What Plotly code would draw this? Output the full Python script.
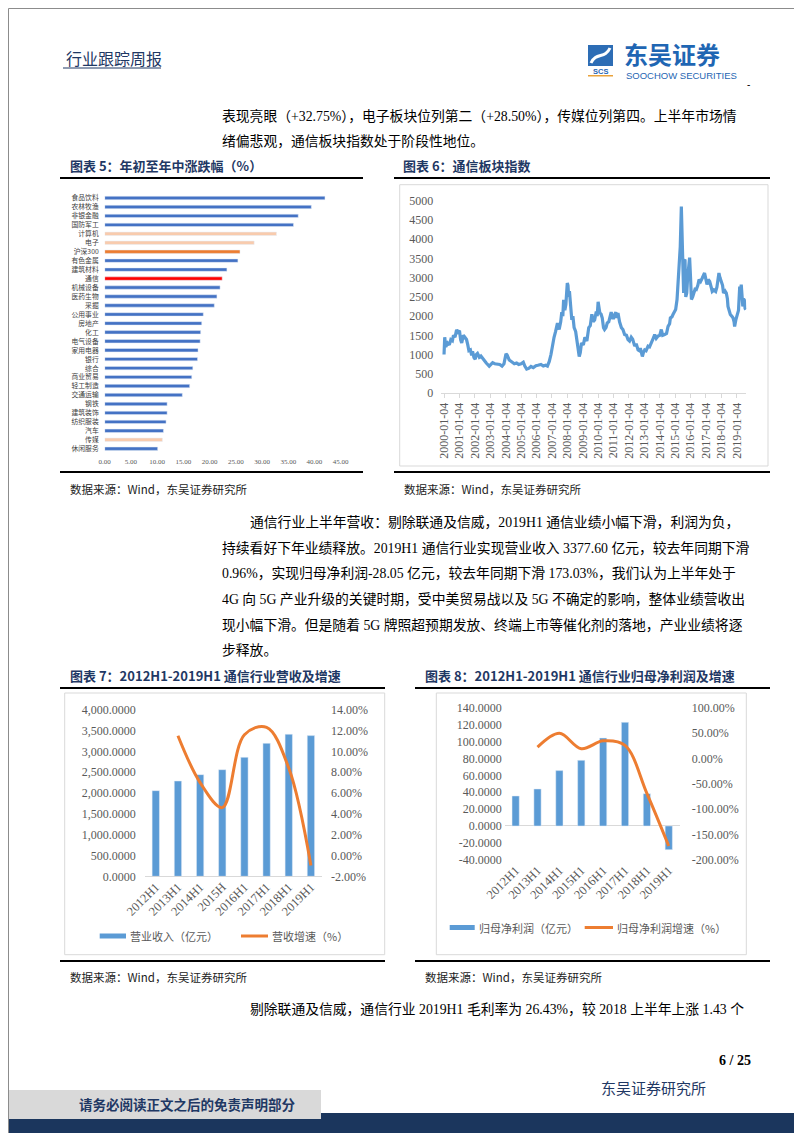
import plotly.graph_objects as go

W, H = 802, 1133


def fx(p):
    return p / W


def fy(p):
    return 1 - p / H


# ---------------- Data ----------------
# Chart 5: YTD change by industry (%)
industries = ["食品饮料", "农林牧渔", "非银金融", "国防军工", "计算机", "电子", "沪深300", "有色金属",
              "建筑材料", "通信", "机械设备", "医药生物", "采掘", "公用事业", "房地产", "化工",
              "电气设备", "家用电器", "银行", "综合", "商业贸易", "轻工制造", "交通运输", "钢铁",
              "建筑装饰", "纺织服装", "汽车", "传媒", "休闲服务"]
ytd_change = [42.0, 39.4, 36.9, 36.0, 32.75, 28.50, 25.8, 25.4,
              23.3, 22.4, 22.0, 21.4, 20.9, 18.8, 18.5, 18.3,
              18.2, 17.8, 17.7, 16.8, 16.6, 16.2, 14.8, 11.9,
              11.9, 11.7, 11.2, 11.0, 10.1]
light_highlight = {"计算机", "电子", "传媒"}
benchmark = {"沪深300"}
focus = {"通信"}

# Chart 6: telecom sector index
index_dates = [
    "2000-01-04", "2000-01-20", "2000-02-14", "2000-03-28", "2000-05-08", "2000-06-13", "2000-07-20",
    "2000-08-15", "2000-09-20", "2000-10-27", "2000-12-01", "2001-01-04", "2001-02-01", "2001-02-26",
    "2001-04-06", "2001-05-12", "2001-06-20", "2001-07-20", "2001-08-15", "2001-09-20", "2001-10-20",
    "2001-11-10", "2001-12-13", "2002-01-12", "2002-02-06", "2002-03-07", "2002-04-20", "2002-05-27",
    "2002-07-02", "2002-08-07", "2002-10-01", "2002-12-10", "2003-01-19", "2003-02-28", "2003-04-20",
    "2003-06-25", "2003-08-15", "2003-10-09", "2003-11-25", "2004-01-12", "2004-02-06", "2004-03-28",
    "2004-05-27", "2004-07-27", "2004-09-20", "2004-11-07", "2005-01-04", "2005-02-25", "2005-04-02",
    "2005-05-16", "2005-07-02", "2005-08-26", "2005-10-20", "2005-12-21", "2006-02-06", "2006-04-20",
    "2006-06-14", "2006-08-08", "2006-09-20", "2006-11-03", "2006-12-13", "2007-01-19", "2007-02-24",
    "2007-04-02", "2007-05-16", "2007-06-25", "2007-08-01", "2007-08-26", "2007-09-20", "2007-10-09",
    "2007-11-07", "2007-12-01", "2008-01-04", "2008-01-20", "2008-02-06", "2008-02-24", "2008-03-20",
    "2008-04-20", "2008-05-16", "2008-06-14", "2008-07-20", "2008-08-26", "2008-09-20", "2008-10-13",
    "2008-11-07", "2008-12-06", "2009-01-19", "2009-02-24", "2009-04-12", "2009-05-27", "2009-07-02",
    "2009-08-08", "2009-09-06", "2009-10-13", "2009-11-22", "2009-12-13", "2010-01-04", "2010-01-25",
    "2010-02-14", "2010-03-15", "2010-04-12", "2010-05-12", "2010-06-06", "2010-07-10", "2010-08-08",
    "2010-09-13", "2010-10-20", "2010-11-10", "2010-12-13", "2011-01-08", "2011-02-06", "2011-03-01",
    "2011-03-24", "2011-04-20", "2011-05-27", "2011-07-10", "2011-08-15", "2011-09-24", "2011-11-07",
    "2011-12-13", "2012-01-19", "2012-02-28", "2012-04-02", "2012-05-20", "2012-06-25", "2012-08-08",
    "2012-09-06", "2012-10-01", "2012-10-27", "2012-11-18", "2012-12-13", "2013-01-12", "2013-02-14",
    "2013-04-02", "2013-05-08", "2013-06-18", "2013-07-20", "2013-08-15", "2013-09-06", "2013-10-13",
    "2013-11-25", "2014-01-04", "2014-02-10", "2014-03-15", "2014-05-01", "2014-06-14", "2014-07-20",
    "2014-08-26", "2014-09-13", "2014-10-20", "2014-11-14", "2014-12-13", "2015-01-16", "2015-02-18",
    "2015-03-15", "2015-04-06", "2015-05-05", "2015-05-31", "2015-06-14", "2015-06-25", "2015-07-09",
    "2015-07-24", "2015-08-08", "2015-08-26", "2015-09-13", "2015-10-06", "2015-10-27", "2015-11-10",
    "2015-12-01", "2015-12-13", "2016-01-04", "2016-01-25", "2016-02-23", "2016-03-20", "2016-04-20",
    "2016-05-20", "2016-06-25", "2016-07-24", "2016-08-29", "2016-10-09", "2016-11-07", "2016-12-01",
    "2017-01-04", "2017-01-28", "2017-02-26", "2017-04-02", "2017-05-08", "2017-06-02", "2017-07-10",
    "2017-08-22", "2017-09-20", "2017-10-20", "2017-11-07", "2017-12-01", "2018-01-04", "2018-02-01",
    "2018-02-24", "2018-04-02", "2018-05-01", "2018-05-27", "2018-06-10", "2018-07-10", "2018-08-04",
    "2018-09-06", "2018-10-09", "2018-11-01", "2018-11-14", "2018-12-13", "2019-01-12", "2019-02-14",
    "2019-03-15", "2019-04-02", "2019-04-20", "2019-05-08", "2019-05-27", "2019-06-14", "2019-07-02",
    "2019-07-20", "2019-08-08"]
index_values = [
    1000, 1450, 1200, 1300, 1250, 1390, 1360,
    1500, 1450, 1640, 1580, 1620, 1380, 1300,
    1500, 1450, 1390, 1250, 1100, 1120, 980,
    1080, 920, 880, 1000, 1030, 930, 960,
    900, 860, 780, 700, 760, 790, 760,
    760, 740, 700, 760, 1020, 990, 860,
    800, 760, 780, 740, 760, 800, 700,
    620, 640, 690, 660, 710, 720, 740,
    700, 720, 700, 820, 1000, 1250, 1450,
    1600, 1820, 1650, 1850, 2100, 2000, 2420,
    2150, 2300, 2860, 2800, 2500, 2650, 2150,
    1900, 2000, 1700, 1600, 1250, 1150, 950,
    1050, 1300, 1250, 1450, 1350, 1700, 1750,
    2050, 1850, 1900, 2120, 2000, 2370, 2150,
    2080, 2050, 1950, 1700, 1650, 1700, 1820,
    1850, 2000, 2100, 1950, 1950, 2050, 2100,
    1950, 2080, 1850, 1700, 1650, 1520, 1500,
    1390, 1350, 1450, 1400, 1220, 1280, 1120,
    1100, 1170, 1050, 950, 1050, 1120, 1100,
    1220, 1200, 1300, 1350, 1450, 1520, 1420,
    1480, 1500, 1650, 1500, 1520, 1550, 1730,
    1800, 1950, 1980, 2040, 2100, 2170, 2430,
    2800, 3200, 3800, 4850, 4200, 3550, 2900,
    2600, 3450, 3470, 2500, 2600, 3000, 3200,
    3400, 3520, 3000, 2430, 2500, 2600, 2700,
    2690, 2800, 2950, 2900, 2990, 3050, 3120,
    2950, 2820, 2950, 2900, 2750, 2640, 2680,
    2640, 2750, 2950, 3120, 3000, 2860, 2800,
    2600, 2650, 2600, 2450, 2250, 2150, 2040,
    2000, 1950, 1850, 1730, 1900, 1990, 2150,
    2770, 2600, 2820, 2450, 2250, 2450, 2420,
    2200, 2170]
index_ticks = ["%d-01-04" % y for y in range(2000, 2020)]

# Chart 7 / 8
periods = ["2012H1", "2013H1", "2014H1", "2015H1", "2016H1", "2017H1", "2018H1", "2019H1"]
period_labels_7 = ["2012H1", "2013H1", "2014H1", "2015H", "2016H1", "2017H1", "2018H1", "2019H1"]
revenue = [2056, 2288, 2440, 2560, 2856, 3192, 3410, 3377.60]
revenue_growth = [None, 11.5, 7.0, 4.6, 11.6, 12.3, 8.4, -0.96]
net_profit = [35.6, 43.9, 65.7, 77.9, 104.4, 123.0, 38.4, -28.05]
profit_growth = [None, 22.5, 50.0, 19.5, 35.0, 26.0, -68.8, -173.03]

# ---------------- Styles ----------------
BLUE5 = "#4472C4"
LIGHT_OR = "#F8CBAD"
ORANGE = "#ED7D31"
RED = "#FF0000"
BLUE = "#5B9BD5"
GRAY_TXT = "#595959"
FRAME = "#D9D9D9"
NAVY = "#1F3864"
SERIF = "Liberation Serif, Noto Sans CJK SC"
CJK = "Noto Sans CJK SC"

bar5_colors = []
for name in industries:
    if name in focus:
        bar5_colors.append(RED)
    elif name in benchmark:
        bar5_colors.append(ORANGE)
    elif name in light_highlight:
        bar5_colors.append(LIGHT_OR)
    else:
        bar5_colors.append(BLUE5)

fig = go.Figure()

fig.add_trace(go.Bar(x=ytd_change, y=industries, orientation="h", marker_color=bar5_colors,
                     xaxis="x", yaxis="y", width=0.38, hoverinfo="x+y"))

fig.add_trace(go.Scatter(x=index_dates, y=index_values, mode="lines",
                         line=dict(color=BLUE, width=3.2), xaxis="x2", yaxis="y2"))

fig.add_trace(go.Bar(x=periods, y=revenue, marker_color=BLUE, width=0.33, xaxis="x3", yaxis="y3"))
fig.add_trace(go.Scatter(x=periods, y=revenue_growth, mode="lines",
                         line=dict(color=ORANGE, width=3, shape="spline", smoothing=1.0),
                         xaxis="x3", yaxis="y4", connectgaps=False))

fig.add_trace(go.Bar(x=periods, y=net_profit, marker_color=BLUE, width=0.33, xaxis="x5", yaxis="y5"))
fig.add_trace(go.Scatter(x=periods, y=profit_growth, mode="lines",
                         line=dict(color=ORANGE, width=3, shape="spline", smoothing=1.0),
                         xaxis="x5", yaxis="y6", connectgaps=False))

tickfont_serif = dict(family=SERIF, size=12, color=GRAY_TXT)

layout = dict(
    width=W, height=H, autosize=False,
    margin=dict(l=0, r=0, t=0, b=0, pad=0),
    paper_bgcolor="white", plot_bgcolor="rgba(0,0,0,0)",
    showlegend=False,
    # chart 5
    xaxis=dict(domain=[fx(96.7), fx(332.7)], range=[0, 45], anchor="y", automargin=False,
               tickmode="array",
               tickvals=list(range(0, 50, 5)), ticktext=["%.2f" % v for v in range(0, 50, 5)],
               tickfont=dict(family=SERIF, size=7, color=GRAY_TXT),
               showgrid=False, zeroline=False, showline=False, ticks="", ticklabelstandoff=3),
    yaxis=dict(domain=[fy(445.2), fy(185.5)], type="category", anchor="x", automargin=False,
               categoryorder="array", categoryarray=industries,
               tickmode="array", tickvals=industries, ticktext=industries,
               range=[len(industries) - 0.5, -0.5],
               tickfont=dict(family=CJK, size=6.8, color="#404040"),
               showgrid=False, zeroline=False, showline=False, ticks="", ticklabelstandoff=5),
    # chart 6
    xaxis2=dict(domain=[fx(433.3), fx(738.3)], type="date", range=["1999-10-31", "2019-08-18"],
                anchor="y2", automargin=False, tickmode="array",
                tickvals=index_ticks, ticktext=index_ticks, tickangle=-90,
                tickfont=tickfont_serif, showgrid=False, zeroline=False,
                showline=True, linecolor=FRAME, linewidth=1,
                ticks="outside", ticklen=4, tickcolor=FRAME),
    yaxis2=dict(domain=[fy(385), fy(192.7)], range=[0, 5000], anchor="x2", automargin=False,
                tickmode="array",
                tickvals=list(range(0, 5001, 500)), tickfont=tickfont_serif,
                showgrid=False, zeroline=False, showline=False, ticks="", ticklabelstandoff=7),
    # chart 7
    xaxis3=dict(domain=[fx(136.7), fx(314)], type="category", range=[-0.5, 7.5], anchor="y3",
                automargin=False, tickmode="array",
                tickvals=periods, ticktext=period_labels_7, tickangle=-45,
                tickfont=dict(family=SERIF, size=12.5, color=GRAY_TXT),
                showgrid=False, zeroline=False, showline=False, ticks=""),
    yaxis3=dict(domain=[fy(868.3), fy(701.7)], range=[0, 4000], anchor="x3", automargin=False,
                tickmode="array",
                tickvals=list(range(0, 4001, 500)),
                ticktext=["{:,}.0000".format(v) for v in range(0, 4001, 500)],
                tickfont=tickfont_serif, showgrid=False,
                zeroline=True, zerolinecolor=FRAME, zerolinewidth=1,
                showline=False, ticks="", ticklabelstandoff=8),
    yaxis4=dict(domain=[fy(868.3), fy(701.7)], range=[-2, 14], anchor="x3", overlaying="y3",
                side="right", automargin=False, tickmode="array", tickvals=list(range(-2, 15, 2)),
                ticktext=["%.2f%%" % v for v in range(-2, 15, 2)],
                tickfont=tickfont_serif, showgrid=False, zeroline=False, showline=False,
                ticks="", ticklabelstandoff=8),
    # chart 8
    xaxis5=dict(domain=[fx(496.7), fx(671.7)], type="category", range=[-0.5, 7.5], anchor="y5",
                automargin=False, tickmode="array",
                tickvals=periods, ticktext=periods, tickangle=-45,
                tickfont=dict(family=SERIF, size=12.5, color=GRAY_TXT),
                showgrid=False, zeroline=False, showline=False, ticks=""),
    yaxis5=dict(domain=[fy(851.7), fy(700)], range=[-40, 140], anchor="x5", automargin=False,
                tickmode="array",
                tickvals=list(range(-40, 141, 20)),
                ticktext=["%.4f" % v for v in range(-40, 141, 20)],
                tickfont=tickfont_serif, showgrid=False,
                zeroline=True, zerolinecolor=FRAME, zerolinewidth=1,
                showline=False, ticks="", ticklabelstandoff=2),
    yaxis6=dict(domain=[fy(851.7), fy(700)], range=[-200, 100], anchor="x5", overlaying="y5",
                side="right", automargin=False, tickmode="array", tickvals=list(range(-200, 101, 50)),
                ticktext=["%.2f%%" % v for v in range(-200, 101, 50)],
                tickfont=tickfont_serif, showgrid=False, zeroline=False, showline=False,
                ticks="", ticklabelstandoff=11),
)
fig.update_layout(**layout)

shapes = []


def rect(x0, y0, x1, y1, fill=None, line=None, lw=1, layer="below"):
    shapes.append(dict(type="rect", xref="paper", yref="paper",
                       x0=fx(x0), x1=fx(x1), y0=fy(y1), y1=fy(y0),
                       fillcolor=fill if fill else "rgba(0,0,0,0)",
                       line=dict(color=line if line else "rgba(0,0,0,0)", width=lw if line else 0),
                       layer=layer))


def hline(x0, x1, y, color="black", w=2):
    shapes.append(dict(type="line", xref="paper", yref="paper",
                       x0=fx(x0), x1=fx(x1), y0=fy(y), y1=fy(y),
                       line=dict(color=color, width=w)))


# page border
rect(0.5, 0.5, 801.5, 1132.5, line="#8C8C8C", lw=1, layer="above")
# header underline
hline(55, 153, 60, color=NAVY, w=1)
# chart title / bottom lines
hline(52, 355, 170)
hline(386, 762, 170)
hline(52, 355, 464)
hline(386, 762, 464)
hline(52, 377, 680)
hline(407, 762, 680)
hline(52, 377, 953)
hline(407, 762, 953)
# chart frames
rect(391.7, 176.7, 760, 458, line=FRAME)
rect(56.7, 685, 376.7, 946.7, line=FRAME)
rect(428.3, 685, 738.3, 946.7, line=FRAME)
# legends
rect(91.7, 925.5, 118, 930.5, fill=BLUE, layer="above")
hline(233, 260, 928, color=ORANGE, w=3)
rect(441.7, 917, 466.7, 922, fill=BLUE, layer="above")
hline(576.7, 605, 919.5, color=ORANGE, w=3)
# logo icon
rect(580, 37, 605, 58, fill="#2D6DB5", layer="above")
shapes.append(dict(type="path", xref="paper", yref="paper", layer="above",
                   path="M %f,%f C %f,%f %f,%f %f,%f" % (
                       fx(583), fy(55), fx(588), fy(44), fx(597), fy(51), fx(602), fy(40)),
                   line=dict(color="white", width=3)))
rect(580, 67, 605, 68.5, fill="#E9A23B", layer="above")
# footer
rect(0, 1105, 802, 1133, fill="#1B365D")
rect(0, 1082, 313, 1111, fill="#D9D9D9")
fig.update_layout(shapes=shapes)

ann = []


def txt(x, y, s, size=13.8, color="black", family=SERIF, xanchor="left", bold=False):
    ann.append(dict(x=fx(x), y=fy(y), xref="paper", yref="paper", text=("<b>%s</b>" % s) if bold else s,
                    showarrow=False, xanchor=xanchor, yanchor="middle",
                    font=dict(size=size, color=color, family=family)))


txt(56, 50, "行业跟踪周报", size=16, color=NAVY, family=CJK)
txt(614, 45.5, "东吴证券", size=24, color="#1F66B3", family=CJK, bold=True)
txt(616, 67.5, "SOOCHOW SECURITIES", size=9.5, color="#1F66B3", family="Liberation Sans")
txt(592.5, 63, "SCS", size=7.5, color="#1F66B3", family="Liberation Sans", xanchor="center", bold=True)
txt(740, 77, "-", size=10, color="black", family="Liberation Sans", xanchor="center")

txt(212, 108, "表现亮眼（+32.75%），电子板块位列第二（+28.50%），传媒位列第四。上半年市场情")
txt(212, 133, "绪偏悲观，通信板块指数处于阶段性地位。")

txt(60, 157, "图表 5：年初至年中涨跌幅（%）", size=13, color=NAVY, family=CJK, bold=True)
txt(393, 157, "图表 6：通信板块指数", size=13, color=NAVY, family=CJK, bold=True)

src = "数据来源：Wind，东吴证券研究所"
txt(60, 481, src, size=11.5, color="#222222", family=CJK)
txt(394, 481, src, size=11.5, color="#222222", family=CJK)

txt(240, 514, "通信行业上半年营收：剔除联通及信威，2019H1 通信业绩小幅下滑，利润为负，")
txt(212, 540, "持续看好下年业绩释放。2019H1 通信行业实现营业收入 3377.60 亿元，较去年同期下滑")
txt(212, 565, "0.96%，实现归母净利润-28.05 亿元，较去年同期下滑 173.03%，我们认为上半年处于")
txt(212, 591, "4G 向 5G 产业升级的关键时期，受中美贸易战以及 5G 不确定的影响，整体业绩营收出")
txt(212, 617, "现小幅下滑。但是随着 5G 牌照超预期发放、终端上市等催化剂的落地，产业业绩将逐")
txt(212, 642, "步释放。")

txt(60, 667, "图表 7：2012H1-2019H1 通信行业营收及增速", size=13, color=NAVY, family=CJK, bold=True)
txt(415, 667, "图表 8：2012H1-2019H1 通信行业归母净利润及增速", size=13, color=NAVY, family=CJK, bold=True)

txt(120, 928, "营业收入（亿元）", size=11, color=GRAY_TXT, family=CJK)
txt(262, 928, "营收增速（%）", size=11, color=GRAY_TXT, family=CJK)
txt(468.5, 919.5, "归母净利润（亿元）", size=11, color=GRAY_TXT, family=CJK)
txt(607, 919.5, "归母净利润增速（%）", size=11, color=GRAY_TXT, family=CJK)

txt(60, 969, src, size=11.5, color="#222222", family=CJK)
txt(415, 969, src, size=11.5, color="#222222", family=CJK)

txt(240, 1001, "剔除联通及信威，通信行业 2019H1 毛利率为 26.43%，较 2018 上半年上涨 1.43 个")

txt(745, 1052, "6 / 25", size=14, color="black", family="Liberation Serif", xanchor="right", bold=True)
txt(591, 1079, "东吴证券研究所", size=15, color=NAVY, family=CJK)
txt(69, 1096, "请务必阅读正文之后的免责声明部分", size=13.5, color=NAVY, family=CJK, bold=True)

fig.update_layout(annotations=ann)

fig.write_html("out.html")
